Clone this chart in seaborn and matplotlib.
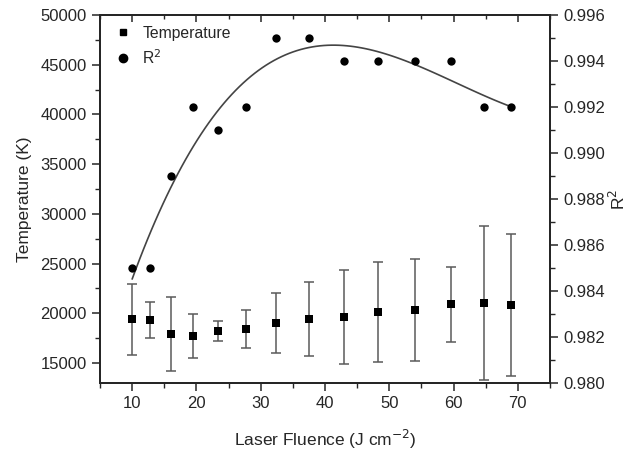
import numpy as np
import pandas as pd
import seaborn as sns
import matplotlib.pyplot as plt
from matplotlib.ticker import MultipleLocator
from matplotlib.lines import Line2D

# Values
fluence = [10.0, 12.7, 16.1, 19.5, 23.3, 27.7, 32.4, 37.5, 43.0, 48.2, 54.0, 59.6, 64.8, 69.0]
temperature = [19400, 19330, 17920, 17750, 18220, 18420, 19060, 19430, 19600, 20130, 20330, 20900, 21030, 20800]
temp_err = [3600, 1820, 3720, 2230, 1040, 1920, 3030, 3700, 4730, 5050, 5100, 3800, 7710, 7130]
r_squared = [0.985, 0.985, 0.989, 0.992, 0.991, 0.992, 0.995, 0.995, 0.994, 0.994, 0.994, 0.994, 0.992, 0.992]

df = pd.DataFrame({"fluence": fluence, "temp": temperature, "err": temp_err, "r2": r_squared})

sns.set_style("ticks")
plt.rcParams["font.family"] = ["Liberation Sans", "DejaVu Sans"]
plt.rcParams["font.size"] = 12

fig = plt.figure(figsize=(6.31, 4.5), dpi=100)
ax = fig.add_axes([0.1585, 0.149, 0.713, 0.8177])

# temperature with error bars
ax.errorbar(df["fluence"], df["temp"], yerr=df["err"], fmt="none",
            ecolor="#5a5a5a", elinewidth=1.1, capsize=3.5, capthick=1.1, zorder=2)
sns.scatterplot(data=df, x="fluence", y="temp", marker="s", s=36, color="black",
                edgecolor="black", linewidth=0, ax=ax, zorder=3)

ax.set_xlim(5, 75)
ax.set_ylim(13000, 50000)
ax.xaxis.set_major_locator(MultipleLocator(10))
ax.xaxis.set_minor_locator(MultipleLocator(5))
ax.yaxis.set_major_locator(MultipleLocator(5000))
ax.yaxis.set_minor_locator(MultipleLocator(2500))
ax.set_xlabel("Laser Fluence (J cm$^{-2}$)", fontsize=12.5, labelpad=12)
ax.set_ylabel("Temperature (K)", fontsize=12.5, labelpad=6)
ax.tick_params(axis="both", which="major", direction="out", length=6, width=1.1, labelsize=12)
ax.tick_params(axis="both", which="minor", direction="out", length=3.5, width=1.0)
for sp in ax.spines.values():
    sp.set_linewidth(1.4)

# R^2 on the right axis
ax2 = ax.twinx()
sns.regplot(data=df, x="fluence", y="r2", order=3, ci=None, ax=ax2, truncate=True,
            scatter_kws={"s": 36, "color": "black", "alpha": 1, "linewidths": 0, "zorder": 3},
            line_kws={"color": "#444444", "linewidth": 1.2})
ax2.set_ylim(0.980, 0.996)
ax2.yaxis.set_major_locator(MultipleLocator(0.002))
ax2.yaxis.set_minor_locator(MultipleLocator(0.001))
ax2.yaxis.set_major_formatter(plt.FormatStrFormatter("%.3f"))
ax2.set_ylabel("R$^2$", fontsize=12.5, labelpad=2)
ax2.set_xlabel("")
ax2.tick_params(axis="y", which="major", direction="out", length=6, width=1.1, labelsize=12)
ax2.tick_params(axis="y", which="minor", direction="out", length=3.5, width=1.0)
for sp in ax2.spines.values():
    sp.set_linewidth(1.4)

# top ticks (inward)
sec = ax.secondary_xaxis("top")
sec.xaxis.set_major_locator(MultipleLocator(10))
sec.xaxis.set_minor_locator(MultipleLocator(5))
sec.tick_params(which="major", direction="in", length=5, width=1.1, labeltop=False)
sec.tick_params(which="minor", direction="in", length=3, width=1.0)
sec.spines["top"].set_linewidth(1.4)

handles = [
    Line2D([], [], marker="s", color="black", linestyle="none", markersize=5),
    Line2D([], [], marker="o", color="black", linestyle="none", markersize=6),
]
ax2.legend(handles, ["Temperature", "R$^2$"], loc="upper left", frameon=False,
           fontsize=11.3, handletextpad=0.5, borderaxespad=0.3, labelspacing=0.45,
           handlelength=1.5)

fig.savefig("out.png", dpi=100)
